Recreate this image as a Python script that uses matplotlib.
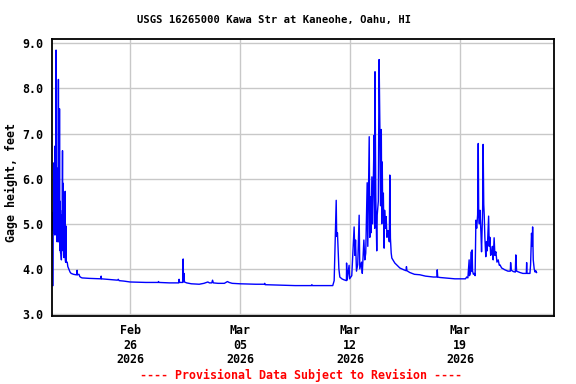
import numpy as np
import pandas as pd
import matplotlib
matplotlib.use('Agg')
import matplotlib.pyplot as plt
from matplotlib.ticker import FormatStrFormatter

# gage height readings, days since 2026-02-21 00:00
storm1_days = [0.00, 0.10, 0.11, 0.12, 0.13, 0.14, 0.15, 0.16, 0.17, 0.18, 0.19, 0.20, 0.21, 0.22,
               0.23, 0.24, 0.25, 0.26, 0.27, 0.28, 0.29, 0.30, 0.31, 0.32, 0.33, 0.34, 0.35, 0.36,
               0.37, 0.38, 0.39, 0.40, 0.41, 0.42, 0.43, 0.44, 0.45, 0.46, 0.47, 0.48, 0.49, 0.50,
               0.51, 0.52, 0.53, 0.54, 0.55, 0.56, 0.57, 0.58, 0.59, 0.60, 0.61, 0.63, 0.65, 0.66,
               0.68, 0.70, 0.71, 0.73, 0.74, 0.76, 0.77, 0.80, 0.82, 0.87, 0.88, 0.90, 0.93, 0.94,
               1.00, 1.04, 1.10, 1.18, 1.25, 1.40, 1.55, 1.62, 1.63, 1.65, 1.75, 1.80, 1.88]
storm1_gage = [3.63, 3.63, 5.25, 4.85, 5.30, 4.90, 6.35, 4.80, 5.40, 5.30, 4.90, 5.20, 6.72, 4.75,
               5.30, 6.20, 4.95, 5.40, 5.90, 4.85, 8.85, 4.80, 5.30, 6.25, 4.65, 5.20, 5.80, 4.60,
               5.10, 5.35, 4.70, 5.20, 5.10, 4.65, 5.00, 8.20, 4.60, 5.10, 5.50, 4.85, 5.20, 4.70,
               7.55, 4.75, 5.10, 5.50, 4.40, 4.90, 5.30, 4.35, 4.80, 5.00, 4.30, 4.20, 5.20, 4.55,
               4.60, 6.62, 4.50, 5.90, 4.40, 5.20, 4.30, 4.25, 4.70, 5.72, 4.20, 4.15, 4.95, 4.15,
               4.15, 4.05, 4.00, 3.93, 3.90, 3.88, 3.87, 3.87, 3.97, 3.87, 3.88, 3.83, 3.81]

base1_days = [1.95, 2.40, 3.15, 3.16, 3.18, 3.50, 4.20, 4.25, 4.30, 4.60, 5.00, 6.00, 6.80, 6.81,
              6.83, 7.50, 8.10, 8.12, 8.15, 8.36, 8.38, 8.40, 8.43, 8.46, 8.60, 8.90, 9.40, 9.70,
              9.95, 10.05, 10.20, 10.25, 10.30, 10.60, 11.00, 11.20, 11.30, 11.50, 12.00, 13.00,
              13.55, 13.57, 13.60, 14.50, 15.50, 16.55, 16.57, 16.60, 17.90]
base1_gage = [3.80, 3.79, 3.78, 3.84, 3.78, 3.77, 3.75, 3.77, 3.74, 3.73, 3.71, 3.70, 3.70, 3.72,
              3.70, 3.69, 3.69, 3.77, 3.70, 3.70, 4.22, 3.72, 3.90, 3.71, 3.69, 3.67, 3.66, 3.68,
              3.71, 3.69, 3.69, 3.75, 3.69, 3.68, 3.68, 3.72, 3.70, 3.68, 3.67, 3.66,
              3.66, 3.68, 3.65, 3.64, 3.63, 3.63, 3.65, 3.63, 3.63]

storm2_days = [17.99, 18.05, 18.12, 18.15, 18.20, 18.25, 18.29, 18.35, 18.48, 18.60, 18.77, 18.78,
               18.81, 18.94, 18.97, 19.11, 19.26, 19.31, 19.35, 19.41, 19.49, 19.58, 19.62, 19.73,
               19.78, 19.88, 19.94, 20.00, 20.09, 20.13, 20.22, 20.26, 20.29, 20.33, 20.39, 20.43,
               20.48, 20.53, 20.57, 20.59, 20.64, 20.70, 20.73, 20.80, 20.85, 20.90, 20.94, 20.99,
               21.02, 21.05, 21.08, 21.12, 21.17, 21.20, 21.25, 21.30, 21.35, 21.42, 21.50, 21.53,
               21.57, 21.62, 21.66, 21.85, 22.17, 22.42, 22.57, 22.59, 22.62, 22.80, 23.10, 23.44]
storm2_gage = [3.74, 4.55, 5.52, 4.72, 4.80, 4.38, 4.00, 3.82, 3.78, 3.76, 3.74, 4.13,
               3.75, 4.08, 3.78, 3.85, 4.93, 4.30, 4.64, 3.95, 4.10, 5.19, 4.00, 4.15,
               3.90, 4.64, 4.20, 4.35, 5.91, 4.50, 6.93, 4.70, 5.60, 4.80, 6.04, 5.00,
               5.90, 6.96, 4.90, 8.37, 5.60, 4.40, 5.20, 5.50, 8.64, 7.11, 5.40, 7.09,
               5.00, 6.37, 5.20, 5.68, 4.46, 5.30, 4.90, 5.16, 4.70, 4.85, 4.60, 6.08,
               4.68, 4.35, 4.24, 4.13, 4.02, 3.98, 3.96, 4.05, 3.96, 3.92, 3.88, 3.87]

base2_days = [23.80, 24.30, 24.53, 24.55, 24.58, 24.71, 25.35, 25.67, 26.35]
base2_gage = [3.84, 3.82, 3.82, 3.98, 3.82, 3.81, 3.79, 3.78, 3.78]

storm3_days = [26.42, 26.50, 26.58, 26.60, 26.66, 26.72, 26.75, 26.77, 26.80, 26.85, 26.92, 26.96,
               27.01, 27.06, 27.12, 27.16, 27.19, 27.23, 27.27, 27.33, 27.37, 27.41, 27.44, 27.47,
               27.51, 27.54, 27.58, 27.64, 27.68, 27.73, 27.78, 27.82, 27.86, 27.90, 27.95, 28.01,
               28.06, 28.11, 28.17, 28.22, 28.28, 28.35, 28.43, 28.50, 28.54, 28.65, 28.85, 29.05,
               29.20, 29.22, 29.26, 29.40, 29.52, 29.55, 29.60, 29.81, 30.00, 30.22, 30.24, 30.26,
               30.45, 30.49, 30.55, 30.60, 30.62, 30.66, 30.72, 30.78, 30.82, 30.87]
storm3_gage = [3.82, 3.80, 4.20, 3.85, 3.90, 4.38, 3.95, 4.42, 3.95, 3.88, 3.90, 3.85,
               5.08, 4.90, 5.20, 6.78, 5.19, 5.00, 5.30, 4.80, 4.38, 4.90, 5.34, 6.76,
               5.43, 5.20, 4.70, 4.27, 4.60, 4.40, 4.80, 5.17, 4.50, 4.70, 4.30, 4.35,
               4.50, 4.20, 4.69, 4.30, 4.38, 4.15, 4.20, 4.08, 4.09, 4.02, 3.98, 3.95,
               3.95, 4.14, 3.97, 3.94, 3.93, 4.31, 3.95, 3.92, 3.90, 3.90, 4.14, 3.90,
               3.90, 4.09, 4.79, 4.50, 4.93, 4.20, 4.00, 3.93, 3.96, 3.92]

tick_dates = ['2026-02-26', '2026-03-05', '2026-03-12', '2026-03-19']
tick_labels = ['Feb\n26\n2026', 'Mar\n05\n2026', 'Mar\n12\n2026', 'Mar\n19\n2026']
y_ticks = [3.0, 4.0, 5.0, 6.0, 7.0, 8.0, 9.0]

start = pd.Timestamp('2026-02-21')
end = pd.Timestamp('2026-03-25')

days = np.concatenate([storm1_days, base1_days, storm2_days, base2_days, storm3_days])
gage = np.concatenate([storm1_gage, base1_gage, storm2_gage, base2_gage, storm3_gage])
t = start + pd.to_timedelta(days, unit='D')

mono = 'DejaVu Sans Mono'
plt.rcParams['font.family'] = mono
plt.rcParams['font.weight'] = 'bold'

W, H = 576, 384
fig = plt.figure(figsize=(W / 100, H / 100), dpi=100)
ax = fig.add_axes([51.5 / W, 1 - 316 / H, (554.3 - 51.5) / W, (316 - 39.3) / H])

ax.plot(t, gage, color='#0000ff', lw=1.0)

ax.set_xlim(start, end)
ax.set_ylim(2.956, 9.089)
ax.set_yticks(y_ticks)
ax.yaxis.set_major_formatter(FormatStrFormatter('%.1f'))
ax.set_xticks(pd.to_datetime(tick_dates), tick_labels)
for lbl in ax.get_xticklabels():
    lbl.set_linespacing(1.12)

ax.grid(True, color='#c8c8c8', lw=1.0)
ax.set_axisbelow(True)
ax.tick_params(axis='both', length=0, labelsize=8.4, colors='black')
ax.tick_params(axis='y', pad=6)
ax.tick_params(axis='x', pad=6)
for s in ax.spines.values():
    s.set_linewidth(1.3)
    s.set_color('black')

fig.text(274 / W, 1 - 20 / H, 'USGS 16265000 Kawa Str at Kaneohe, Oahu, HI',
         ha='center', va='center', fontsize=7.6, fontweight='bold')
fig.text(11.5 / W, 1 - 182.5 / H, 'Gage height, feet', rotation=90,
         ha='center', va='center', fontsize=8.4, fontweight='bold')
fig.text(301 / W, 1 - 375 / H, '---- Provisional Data Subject to Revision ----',
         ha='center', va='center', fontsize=8.4, fontweight='bold', color='red')

fig.savefig('out.png', dpi=100, facecolor='white')
